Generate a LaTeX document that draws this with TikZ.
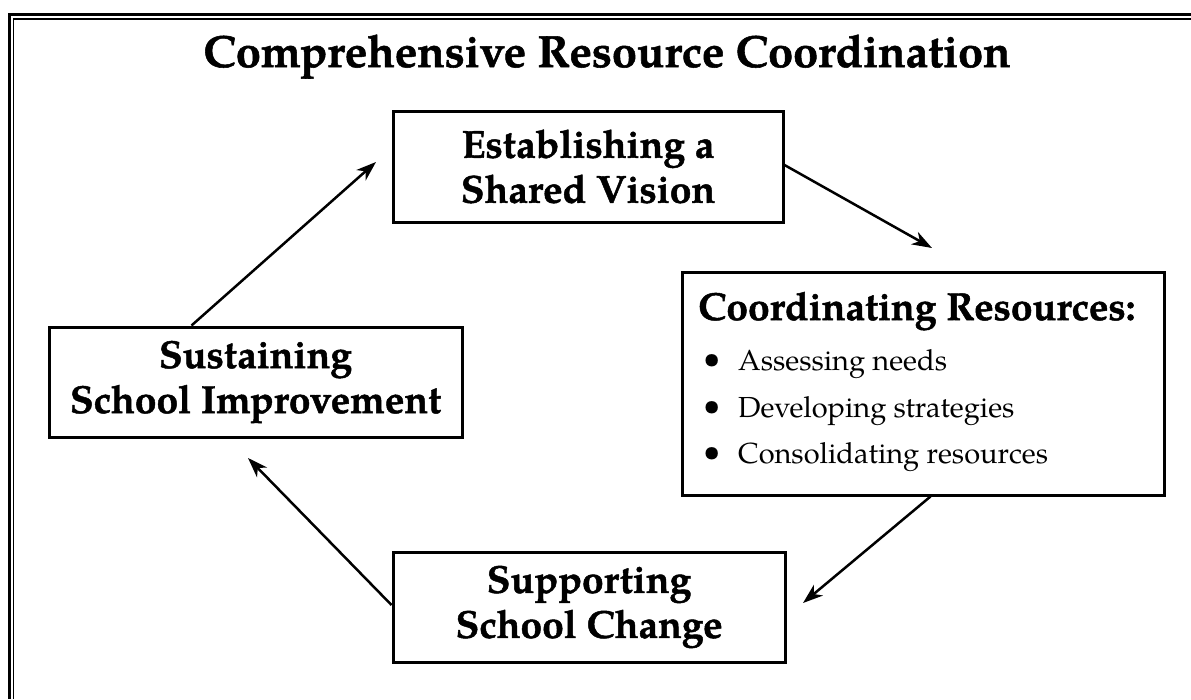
\documentclass[tikz,border=0pt]{standalone}
\usepackage{fontspec}
\setmainfont{texgyrepagella}[Extension=.otf, UprightFont=*-regular, BoldFont=*-bold, ItalicFont=*-italic, BoldItalicFont=*-bolditalic, BoldFeatures={FakeBold=1.2}]
\usetikzlibrary{arrows.meta}
\newcommand{\bxfont}{\fontsize{39}{45}\selectfont\bfseries}
\newcommand{\ttlfont}{\fontsize{45}{50}\selectfont\bfseries}
\newcommand{\itmfont}{\fontsize{29}{35}\selectfont}
\newcommand{\bulfont}{\fontsize{31}{31}\selectfont}
\tikzset{
  stagebox/.style={draw, line width=3pt, inner sep=0pt, align=center, font=\bxfont},
  arr/.style={-{Stealth[length=20pt,width=14pt,inset=6pt]}, line width=2.5pt},
  txt/.style={inner sep=0pt, anchor=base west}
}
\begin{document}
\begin{tikzpicture}[x=1pt,y=-1pt]
\useasboundingbox (0,0) rectangle (1191,699);
% frame
\draw[line width=2.4pt] (9.5,699) -- (9.5,14.5) -- (1191,14.5);
\draw[line width=1.5pt] (13.5,699) -- (13.5,19) -- (1191,19);
% title
\node[inner sep=0pt, anchor=base, font=\ttlfont] (title) at (607,67) {Comprehensive Resource Coordination};
% boxes
\node[stagebox, minimum width=390pt, minimum height=111pt] (est) at (588,166.5) {Establishing a\\Shared Vision};
\node[draw, line width=3pt, inner sep=0pt, minimum width=482pt, minimum height=223pt] (coord) at (923,383.5) {};
\node[stagebox, minimum width=413pt, minimum height=110pt] (sust) at (255.5,382) {Sustaining\\School Improvement};
\node[stagebox, minimum width=392pt, minimum height=110pt] (supp) at (589,607) {Supporting\\School Change};
% coordinating contents
\node[txt, font=\bxfont] (ch) at (698,320) {Coordinating Resources:};
\node[txt, font=\bulfont] (b1) at (703,368) {•};
\node[txt, font=\itmfont] (i1) at (738,370) {Assessing needs};
\node[txt, font=\bulfont] (b2) at (703,415) {•};
\node[txt, font=\itmfont] (i2) at (738,417) {Developing strategies};
\node[txt, font=\bulfont] (b3) at (703,461) {•};
\node[txt, font=\itmfont] (i3) at (738,463) {Consolidating resources};
% arrow ends
\coordinate (t1) at (376,162);
\coordinate (t2) at (932,248);
\coordinate (t3) at (803,603);
\coordinate (t4) at (248,458);
\draw[arr] (sust.north west) ++(144,0) -- (t1);
\draw[arr] (est.east) ++(0,-1.5) -- (t2);
\draw[arr] (coord.south west) ++(250,0) -- (t3);
\draw[arr] (supp.west) ++(0,-2) -- (t4);
\end{tikzpicture}
\end{document}
